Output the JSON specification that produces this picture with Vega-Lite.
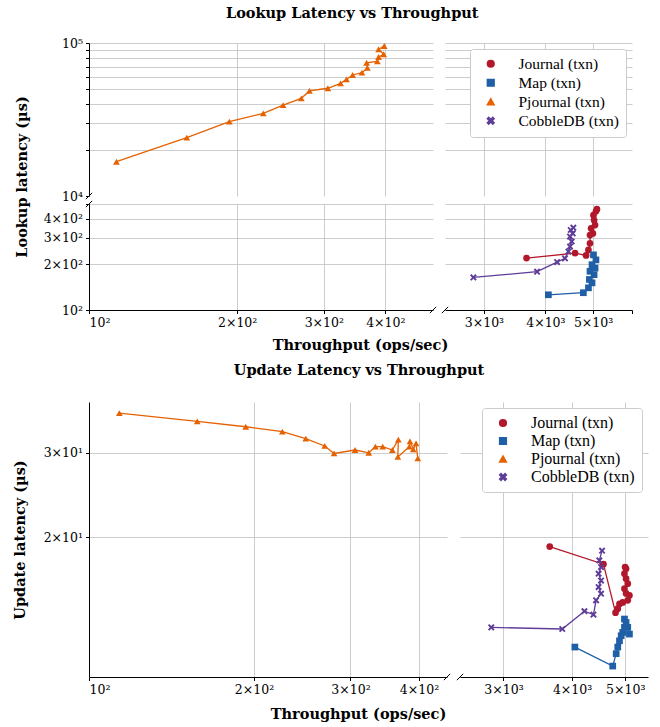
{
  "$schema": "https://vega.github.io/schema/vega-lite/v6.json",
  "padding": {"left": 12, "top": 5, "right": 5, "bottom": 5},
  "datasets": {
    "lookup": [
      {"s": "Pjournal (txn)", "i": 1, "x": 113.7, "y": 16750},
      {"s": "Pjournal (txn)", "i": 2, "x": 158, "y": 24050},
      {"s": "Pjournal (txn)", "i": 3, "x": 192.8, "y": 30600},
      {"s": "Pjournal (txn)", "i": 4, "x": 226, "y": 34700},
      {"s": "Pjournal (txn)", "i": 5, "x": 248, "y": 39300},
      {"s": "Pjournal (txn)", "i": 6, "x": 270, "y": 43500},
      {"s": "Pjournal (txn)", "i": 7, "x": 280.5, "y": 48600},
      {"s": "Pjournal (txn)", "i": 8, "x": 305.7, "y": 50600},
      {"s": "Pjournal (txn)", "i": 9, "x": 324.5, "y": 54500},
      {"s": "Pjournal (txn)", "i": 10, "x": 333.6, "y": 57900},
      {"s": "Pjournal (txn)", "i": 11, "x": 343.3, "y": 61800},
      {"s": "Pjournal (txn)", "i": 12, "x": 358.6, "y": 64000},
      {"s": "Pjournal (txn)", "i": 13, "x": 367.9, "y": 68700},
      {"s": "Pjournal (txn)", "i": 14, "x": 366.5, "y": 74300},
      {"s": "Pjournal (txn)", "i": 15, "x": 385.4, "y": 75900},
      {"s": "Pjournal (txn)", "i": 16, "x": 387.6, "y": 81000},
      {"s": "Pjournal (txn)", "i": 17, "x": 397, "y": 84400},
      {"s": "Pjournal (txn)", "i": 18, "x": 387.6, "y": 91000},
      {"s": "Pjournal (txn)", "i": 19, "x": 398, "y": 95600},
      {"s": "Journal (txn)", "i": 1, "x": 3662, "y": 220},
      {"s": "Journal (txn)", "i": 2, "x": 4596, "y": 237},
      {"s": "Journal (txn)", "i": 3, "x": 4840, "y": 229},
      {"s": "Journal (txn)", "i": 4, "x": 4893, "y": 249},
      {"s": "Journal (txn)", "i": 5, "x": 4929, "y": 275},
      {"s": "Journal (txn)", "i": 6, "x": 4929, "y": 312},
      {"s": "Journal (txn)", "i": 7, "x": 4996, "y": 320},
      {"s": "Journal (txn)", "i": 8, "x": 4955, "y": 345},
      {"s": "Journal (txn)", "i": 9, "x": 5047, "y": 363},
      {"s": "Journal (txn)", "i": 10, "x": 5024, "y": 392},
      {"s": "Journal (txn)", "i": 11, "x": 5010, "y": 422},
      {"s": "Journal (txn)", "i": 12, "x": 5068, "y": 448},
      {"s": "Journal (txn)", "i": 13, "x": 5092, "y": 462},
      {"s": "Map (txn)", "i": 1, "x": 4056, "y": 126},
      {"s": "Map (txn)", "i": 2, "x": 4778, "y": 130},
      {"s": "Map (txn)", "i": 3, "x": 4893, "y": 140},
      {"s": "Map (txn)", "i": 4, "x": 4976, "y": 151},
      {"s": "Map (txn)", "i": 5, "x": 4915, "y": 159},
      {"s": "Map (txn)", "i": 6, "x": 5024, "y": 171},
      {"s": "Map (txn)", "i": 7, "x": 4929, "y": 180},
      {"s": "Map (txn)", "i": 8, "x": 5047, "y": 189},
      {"s": "Map (txn)", "i": 9, "x": 4976, "y": 199},
      {"s": "Map (txn)", "i": 10, "x": 5068, "y": 214},
      {"s": "Map (txn)", "i": 11, "x": 5010, "y": 231},
      {"s": "CobbleDB (txn)", "i": 1, "x": 2855, "y": 164},
      {"s": "CobbleDB (txn)", "i": 2, "x": 3847, "y": 179},
      {"s": "CobbleDB (txn)", "i": 3, "x": 4225, "y": 207},
      {"s": "CobbleDB (txn)", "i": 4, "x": 4384, "y": 219},
      {"s": "CobbleDB (txn)", "i": 5, "x": 4455, "y": 243},
      {"s": "CobbleDB (txn)", "i": 6, "x": 4489, "y": 262},
      {"s": "CobbleDB (txn)", "i": 7, "x": 4525, "y": 283},
      {"s": "CobbleDB (txn)", "i": 8, "x": 4489, "y": 305},
      {"s": "CobbleDB (txn)", "i": 9, "x": 4546, "y": 320},
      {"s": "CobbleDB (txn)", "i": 10, "x": 4504, "y": 337},
      {"s": "CobbleDB (txn)", "i": 11, "x": 4559, "y": 349}
    ],
    "update": [
      {"s": "Pjournal (txn)", "i": 1, "x": 113.6, "y": 36.3},
      {"s": "Pjournal (txn)", "i": 2, "x": 157.6, "y": 34.9},
      {"s": "Pjournal (txn)", "i": 3, "x": 193.2, "y": 34.0},
      {"s": "Pjournal (txn)", "i": 4, "x": 225.3, "y": 33.2},
      {"s": "Pjournal (txn)", "i": 5, "x": 248.6, "y": 32.1},
      {"s": "Pjournal (txn)", "i": 6, "x": 269.2, "y": 31.0},
      {"s": "Pjournal (txn)", "i": 7, "x": 280, "y": 29.9},
      {"s": "Pjournal (txn)", "i": 8, "x": 305.8, "y": 30.4},
      {"s": "Pjournal (txn)", "i": 9, "x": 323.9, "y": 30.0},
      {"s": "Pjournal (txn)", "i": 10, "x": 333.1, "y": 30.9},
      {"s": "Pjournal (txn)", "i": 11, "x": 343.5, "y": 30.9},
      {"s": "Pjournal (txn)", "i": 12, "x": 357.7, "y": 30.4},
      {"s": "Pjournal (txn)", "i": 13, "x": 366.8, "y": 31.95},
      {"s": "Pjournal (txn)", "i": 14, "x": 366, "y": 29.4},
      {"s": "Pjournal (txn)", "i": 15, "x": 384.1, "y": 30.9},
      {"s": "Pjournal (txn)", "i": 16, "x": 385.2, "y": 31.7},
      {"s": "Pjournal (txn)", "i": 17, "x": 390.6, "y": 30.5},
      {"s": "Pjournal (txn)", "i": 18, "x": 395.1, "y": 31.4},
      {"s": "Pjournal (txn)", "i": 19, "x": 398, "y": 29.2},
      {"s": "Journal (txn)", "i": 1, "x": 3642, "y": 19.1},
      {"s": "Journal (txn)", "i": 2, "x": 4563, "y": 17.55},
      {"s": "Journal (txn)", "i": 3, "x": 4800, "y": 13.9},
      {"s": "Journal (txn)", "i": 4, "x": 4845, "y": 14.17},
      {"s": "Journal (txn)", "i": 5, "x": 4880, "y": 14.5},
      {"s": "Journal (txn)", "i": 6, "x": 4947, "y": 14.6},
      {"s": "Journal (txn)", "i": 7, "x": 5052, "y": 14.75},
      {"s": "Journal (txn)", "i": 8, "x": 5088, "y": 15.1},
      {"s": "Journal (txn)", "i": 9, "x": 5017, "y": 15.25},
      {"s": "Journal (txn)", "i": 10, "x": 4983, "y": 15.6},
      {"s": "Journal (txn)", "i": 11, "x": 5052, "y": 15.98},
      {"s": "Journal (txn)", "i": 12, "x": 5017, "y": 16.37},
      {"s": "Journal (txn)", "i": 13, "x": 4983, "y": 16.77},
      {"s": "Journal (txn)", "i": 14, "x": 5017, "y": 17.17},
      {"s": "Journal (txn)", "i": 15, "x": 4996, "y": 17.31},
      {"s": "Map (txn)", "i": 1, "x": 4047, "y": 11.78},
      {"s": "Map (txn)", "i": 2, "x": 4744, "y": 10.75},
      {"s": "Map (txn)", "i": 3, "x": 4813, "y": 11.41},
      {"s": "Map (txn)", "i": 4, "x": 4845, "y": 11.78},
      {"s": "Map (txn)", "i": 5, "x": 4880, "y": 12.14},
      {"s": "Map (txn)", "i": 6, "x": 4915, "y": 12.44},
      {"s": "Map (txn)", "i": 7, "x": 4947, "y": 12.64},
      {"s": "Map (txn)", "i": 8, "x": 5088, "y": 12.54},
      {"s": "Map (txn)", "i": 9, "x": 5052, "y": 12.95},
      {"s": "Map (txn)", "i": 10, "x": 4983, "y": 12.95},
      {"s": "Map (txn)", "i": 11, "x": 5017, "y": 13.26},
      {"s": "Map (txn)", "i": 12, "x": 4983, "y": 13.48},
      {"s": "CobbleDB (txn)", "i": 1, "x": 2850, "y": 12.95},
      {"s": "CobbleDB (txn)", "i": 2, "x": 3839, "y": 12.85},
      {"s": "CobbleDB (txn)", "i": 3, "x": 4213, "y": 14.0},
      {"s": "CobbleDB (txn)", "i": 4, "x": 4375, "y": 13.77},
      {"s": "CobbleDB (txn)", "i": 5, "x": 4424, "y": 14.75},
      {"s": "CobbleDB (txn)", "i": 6, "x": 4517, "y": 15.23},
      {"s": "CobbleDB (txn)", "i": 7, "x": 4471, "y": 15.72},
      {"s": "CobbleDB (txn)", "i": 8, "x": 4517, "y": 16.22},
      {"s": "CobbleDB (txn)", "i": 9, "x": 4471, "y": 16.77},
      {"s": "CobbleDB (txn)", "i": 10, "x": 4517, "y": 17.31},
      {"s": "CobbleDB (txn)", "i": 11, "x": 4485, "y": 17.87},
      {"s": "CobbleDB (txn)", "i": 12, "x": 4536, "y": 18.73}
    ]
  },
  "spacing": 10,
  "resolve": {"scale": {"x": "independent", "y": "independent", "color": "independent", "shape": "independent"}, "legend": {"color": "independent", "shape": "independent"}},
  "vconcat": [
    {
      "title": {"text": "Lookup Latency vs Throughput", "anchor": "middle", "dx": 29, "offset": 16},
      "columns": 2,
      "bounds": "flush",
      "spacing": {"row": 8, "column": 12},
      "resolve": {"scale": {"x": "independent", "y": "independent", "color": "independent", "shape": "independent"}, "legend": {"color": "independent", "shape": "independent"}},
      "concat": [
        {
          "width": 344, "height": 153,
          "data": {"name": "lookup"},
          "encoding": {
            "x": {"field": "x", "type": "quantitative", "scale": {"type": "log", "domain": [100, 500], "nice": false},
              "axis": {"values": [200, 300, 400], "labels": false, "ticks": false, "domain": false, "title": null}},
            "y": {"field": "y", "type": "quantitative", "scale": {"type": "log", "domain": [10000, 100000], "nice": false},
              "axis": {"values": [10000, 20000, 30000, 40000, 50000, 60000, 70000, 80000, 90000, 100000], "labelExpr": "datum.value == 100000 ? '10⁵' : datum.value == 10000 ? '10⁴' : ''", "title": null, "minExtent": 45, "maxExtent": 45, "gridOpacity": {"condition": {"test": "datum.value == 10000", "value": 0}, "value": 1}}}
          },
          "layer": [
            {"mark": {"type": "line", "clip": true, "strokeWidth": 1.3},
              "encoding": {"order": {"field": "i", "type": "quantitative"}, "color": {"field": "s", "type": "nominal", "scale": {"domain": ["Journal (txn)", "Map (txn)", "Pjournal (txn)", "CobbleDB (txn)"], "range": ["#b2182b", "#1f5fa6", "#e66101", "#5e3c99"]}, "legend": null}}},
            {"mark": {"type": "point", "filled": true, "opacity": 1, "size": 45, "clip": true},
              "encoding": {"color": {"field": "s", "type": "nominal", "scale": {"domain": ["Journal (txn)", "Map (txn)", "Pjournal (txn)", "CobbleDB (txn)"], "range": ["#b2182b", "#1f5fa6", "#e66101", "#5e3c99"]}, "legend": null}, "shape": {"field": "s", "type": "nominal", "scale": {"domain": ["Journal (txn)", "Map (txn)", "Pjournal (txn)", "CobbleDB (txn)"], "range": ["circle", "square", "triangle-up", "M-1,-0.6L-0.6,-1L0,-0.4L0.6,-1L1,-0.6L0.4,0L1,0.6L0.6,1L0,0.4L-0.6,1L-1,0.6L-0.4,0Z"]}, "legend": null}}},
            {"data": {"values": [{"bx": 100, "by": 10000}]}, "mark": {"type": "point", "shape": "M-1,1L1,-1", "filled": false, "stroke": "#000", "strokeWidth": 1, "size": 40, "opacity": 1},
              "encoding": {"x": {"field": "bx", "type": "quantitative"}, "y": {"field": "by", "type": "quantitative"}}}
          ]
        },
        {
          "width": 187, "height": 153,
          "data": {"name": "lookup"},
          "encoding": {
            "x": {"field": "x", "type": "quantitative", "scale": {"type": "log", "domain": [2500, 6000], "nice": false},
              "axis": {"values": [3000, 4000, 5000], "labels": false, "ticks": false, "domain": false, "title": null}},
            "y": {"field": "y", "type": "quantitative", "scale": {"type": "log", "domain": [10000, 100000], "nice": false},
              "axis": {"values": [20000, 30000, 40000, 50000, 60000, 70000, 80000, 90000, 100000], "labels": false, "ticks": false, "domain": false, "title": null}}
          },
          "layer": [
            {"mark": {"type": "line", "clip": true, "strokeWidth": 1.3},
              "encoding": {"order": {"field": "i", "type": "quantitative"}, "color": {"field": "s", "type": "nominal", "scale": {"domain": ["Journal (txn)", "Map (txn)", "Pjournal (txn)", "CobbleDB (txn)"], "range": ["#b2182b", "#1f5fa6", "#e66101", "#5e3c99"]}, "legend": {"title": null, "orient": "top-right", "offset": 6, "labelFont": "Liberation Serif", "labelFontSize": 15.5}}}},
            {"mark": {"type": "point", "filled": true, "opacity": 1, "size": 45, "clip": true},
              "encoding": {"color": {"field": "s", "type": "nominal", "scale": {"domain": ["Journal (txn)", "Map (txn)", "Pjournal (txn)", "CobbleDB (txn)"], "range": ["#b2182b", "#1f5fa6", "#e66101", "#5e3c99"]}, "legend": {"title": null, "orient": "top-right", "offset": 6, "labelFont": "Liberation Serif", "labelFontSize": 15.5}}, "shape": {"field": "s", "type": "nominal", "scale": {"domain": ["Journal (txn)", "Map (txn)", "Pjournal (txn)", "CobbleDB (txn)"], "range": ["circle", "square", "triangle-up", "M-1,-0.6L-0.6,-1L0,-0.4L0.6,-1L1,-0.6L0.4,0L1,0.6L0.6,1L0,0.4L-0.6,1L-1,0.6L-0.4,0Z"]}, "legend": {"title": null, "orient": "top-right", "offset": 6, "labelFont": "Liberation Serif", "labelFontSize": 15.5}}}}
          ]
        },
        {
          "width": 344, "height": 106,
          "data": {"name": "lookup"},
          "encoding": {
            "x": {"field": "x", "type": "quantitative", "scale": {"type": "log", "domain": [100, 500], "nice": false},
              "axis": {"values": [100, 200, 300, 400], "labelExpr": "datum.value == 100 ? '10²' : datum.value == 200 ? '2×10²' : datum.value == 300 ? '3×10²' : '4×10²'", "title": "Throughput (ops/sec)", "titleX": 271, "titlePadding": 9, "gridOpacity": {"condition": {"test": "datum.value == 100", "value": 0}, "value": 1}}},
            "y": {"field": "y", "type": "quantitative", "scale": {"type": "log", "domain": [100, 500], "nice": false},
              "axis": {"values": [100, 200, 300, 400, 500], "labelExpr": "datum.value == 100 ? '10²' : datum.value == 200 ? '2×10²' : datum.value == 300 ? '3×10²' : datum.value == 400 ? '4×10²' : ''", "title": "Lookup latency (µs)", "titleY": -27.5, "titlePadding": 15, "minExtent": 45, "maxExtent": 45}}
          },
          "layer": [
            {"mark": {"type": "line", "clip": true, "strokeWidth": 1.3},
              "encoding": {"order": {"field": "i", "type": "quantitative"}, "color": {"field": "s", "type": "nominal", "scale": {"domain": ["Journal (txn)", "Map (txn)", "Pjournal (txn)", "CobbleDB (txn)"], "range": ["#b2182b", "#1f5fa6", "#e66101", "#5e3c99"]}, "legend": null}}},
            {"mark": {"type": "point", "filled": true, "opacity": 1, "size": 45, "clip": true},
              "encoding": {"color": {"field": "s", "type": "nominal", "scale": {"domain": ["Journal (txn)", "Map (txn)", "Pjournal (txn)", "CobbleDB (txn)"], "range": ["#b2182b", "#1f5fa6", "#e66101", "#5e3c99"]}, "legend": null}, "shape": {"field": "s", "type": "nominal", "scale": {"domain": ["Journal (txn)", "Map (txn)", "Pjournal (txn)", "CobbleDB (txn)"], "range": ["circle", "square", "triangle-up", "M-1,-0.6L-0.6,-1L0,-0.4L0.6,-1L1,-0.6L0.4,0L1,0.6L0.6,1L0,0.4L-0.6,1L-1,0.6L-0.4,0Z"]}, "legend": null}}},
            {"data": {"values": [{"bx": 100, "by": 500}, {"bx": 500, "by": 100}]}, "mark": {"type": "point", "shape": "M-1,1L1,-1", "filled": false, "stroke": "#000", "strokeWidth": 1, "size": 40, "opacity": 1},
              "encoding": {"x": {"field": "bx", "type": "quantitative"}, "y": {"field": "by", "type": "quantitative"}}}
          ]
        },
        {
          "width": 187, "height": 106,
          "data": {"name": "lookup"},
          "encoding": {
            "x": {"field": "x", "type": "quantitative", "scale": {"type": "log", "domain": [2500, 6000], "nice": false},
              "axis": {"values": [3000, 4000, 5000, 6000], "labelExpr": "datum.value == 3000 ? '3×10³' : datum.value == 4000 ? '4×10³' : datum.value == 5000 ? '5×10³' : '6×10³'", "title": null, "gridOpacity": {"condition": {"test": "datum.value == 6000", "value": 0}, "value": 1}}},
            "y": {"field": "y", "type": "quantitative", "scale": {"type": "log", "domain": [100, 500], "nice": false},
              "axis": {"values": [200, 300, 400, 500], "labels": false, "ticks": false, "domain": false, "title": null}}
          },
          "layer": [
            {"mark": {"type": "line", "clip": true, "strokeWidth": 1.3},
              "encoding": {"order": {"field": "i", "type": "quantitative"}, "color": {"field": "s", "type": "nominal", "scale": {"domain": ["Journal (txn)", "Map (txn)", "Pjournal (txn)", "CobbleDB (txn)"], "range": ["#b2182b", "#1f5fa6", "#e66101", "#5e3c99"]}, "legend": null}}},
            {"mark": {"type": "point", "filled": true, "opacity": 1, "size": 45, "clip": true},
              "encoding": {"color": {"field": "s", "type": "nominal", "scale": {"domain": ["Journal (txn)", "Map (txn)", "Pjournal (txn)", "CobbleDB (txn)"], "range": ["#b2182b", "#1f5fa6", "#e66101", "#5e3c99"]}, "legend": null}, "shape": {"field": "s", "type": "nominal", "scale": {"domain": ["Journal (txn)", "Map (txn)", "Pjournal (txn)", "CobbleDB (txn)"], "range": ["circle", "square", "triangle-up", "M-1,-0.6L-0.6,-1L0,-0.4L0.6,-1L1,-0.6L0.4,0L1,0.6L0.6,1L0,0.4L-0.6,1L-1,0.6L-0.4,0Z"]}, "legend": null}}},
            {"data": {"values": [{"bx": 2500, "by": 100}]}, "mark": {"type": "point", "shape": "M-1,1L1,-1", "filled": false, "stroke": "#000", "strokeWidth": 1, "size": 40, "opacity": 1},
              "encoding": {"x": {"field": "bx", "type": "quantitative"}, "y": {"field": "by", "type": "quantitative"}}}
          ]
        }
      ]
    },
    {
      "title": {"text": "Update Latency vs Throughput", "anchor": "middle", "dx": 29, "offset": 24},
      "bounds": "flush",
      "spacing": 13,
      "resolve": {"scale": {"x": "independent", "y": "independent", "color": "independent", "shape": "independent"}, "legend": {"color": "independent", "shape": "independent"}},
      "hconcat": [
        {
          "width": 358, "height": 275,
          "data": {"name": "update"},
          "encoding": {
            "x": {"field": "x", "type": "quantitative", "scale": {"type": "log", "domain": [100, 450], "nice": false},
              "axis": {"values": [100, 200, 300, 400], "labelExpr": "datum.value == 100 ? '10²' : datum.value == 200 ? '2×10²' : datum.value == 300 ? '3×10²' : '4×10²'", "title": "Throughput (ops/sec)", "titleX": 269, "titlePadding": 11, "gridOpacity": {"condition": {"test": "datum.value == 100", "value": 0}, "value": 1}}},
            "y": {"field": "y", "type": "quantitative", "scale": {"type": "log", "domain": [10.2, 38.3], "nice": false},
              "axis": {"values": [20, 30], "labelExpr": "datum.value == 20 ? '2×10¹' : '3×10¹'", "title": "Update latency (µs)", "titlePadding": 17, "minExtent": 45, "maxExtent": 45}}
          },
          "layer": [
            {"mark": {"type": "line", "clip": true, "strokeWidth": 1.3},
              "encoding": {"order": {"field": "i", "type": "quantitative"}, "color": {"field": "s", "type": "nominal", "scale": {"domain": ["Journal (txn)", "Map (txn)", "Pjournal (txn)", "CobbleDB (txn)"], "range": ["#b2182b", "#1f5fa6", "#e66101", "#5e3c99"]}, "legend": null}}},
            {"mark": {"type": "point", "filled": true, "opacity": 1, "size": 45, "clip": true},
              "encoding": {"color": {"field": "s", "type": "nominal", "scale": {"domain": ["Journal (txn)", "Map (txn)", "Pjournal (txn)", "CobbleDB (txn)"], "range": ["#b2182b", "#1f5fa6", "#e66101", "#5e3c99"]}, "legend": null}, "shape": {"field": "s", "type": "nominal", "scale": {"domain": ["Journal (txn)", "Map (txn)", "Pjournal (txn)", "CobbleDB (txn)"], "range": ["circle", "square", "triangle-up", "M-1,-0.6L-0.6,-1L0,-0.4L0.6,-1L1,-0.6L0.4,0L1,0.6L0.6,1L0,0.4L-0.6,1L-1,0.6L-0.4,0Z"]}, "legend": null}}},
            {"data": {"values": [{"bx": 450, "by": 10.2}]}, "mark": {"type": "point", "shape": "M-1,1L1,-1", "filled": false, "stroke": "#000", "strokeWidth": 1, "size": 40, "opacity": 1},
              "encoding": {"x": {"field": "bx", "type": "quantitative"}, "y": {"field": "by", "type": "quantitative"}}}
          ]
        },
        {
          "width": 188, "height": 275,
          "data": {"name": "update"},
          "encoding": {
            "x": {"field": "x", "type": "quantitative", "scale": {"type": "log", "domain": [2500, 5500], "nice": false},
              "axis": {"values": [3000, 4000, 5000], "labelExpr": "datum.value == 3000 ? '3×10³' : datum.value == 4000 ? '4×10³' : '5×10³'", "title": null}},
            "y": {"field": "y", "type": "quantitative", "scale": {"type": "log", "domain": [10.2, 38.3], "nice": false},
              "axis": {"values": [20, 30], "labels": false, "ticks": false, "domain": false, "title": null}}
          },
          "layer": [
            {"mark": {"type": "line", "clip": true, "strokeWidth": 1.3},
              "encoding": {"order": {"field": "i", "type": "quantitative"}, "color": {"field": "s", "type": "nominal", "scale": {"domain": ["Journal (txn)", "Map (txn)", "Pjournal (txn)", "CobbleDB (txn)"], "range": ["#b2182b", "#1f5fa6", "#e66101", "#5e3c99"]}, "legend": {"title": null, "orient": "top-right", "offset": 6, "labelFont": "Liberation Serif", "labelFontSize": 16}}}},
            {"mark": {"type": "point", "filled": true, "opacity": 1, "size": 45, "clip": true},
              "encoding": {"color": {"field": "s", "type": "nominal", "scale": {"domain": ["Journal (txn)", "Map (txn)", "Pjournal (txn)", "CobbleDB (txn)"], "range": ["#b2182b", "#1f5fa6", "#e66101", "#5e3c99"]}, "legend": {"title": null, "orient": "top-right", "offset": 6, "labelFont": "Liberation Serif", "labelFontSize": 16}}, "shape": {"field": "s", "type": "nominal", "scale": {"domain": ["Journal (txn)", "Map (txn)", "Pjournal (txn)", "CobbleDB (txn)"], "range": ["circle", "square", "triangle-up", "M-1,-0.6L-0.6,-1L0,-0.4L0.6,-1L1,-0.6L0.4,0L1,0.6L0.6,1L0,0.4L-0.6,1L-1,0.6L-0.4,0Z"]}, "legend": {"title": null, "orient": "top-right", "offset": 6, "labelFont": "Liberation Serif", "labelFontSize": 16}}}},
            {"data": {"values": [{"bx": 2500, "by": 10.2}]}, "mark": {"type": "point", "shape": "M-1,1L1,-1", "filled": false, "stroke": "#000", "strokeWidth": 1, "size": 40, "opacity": 1},
              "encoding": {"x": {"field": "bx", "type": "quantitative"}, "y": {"field": "by", "type": "quantitative"}}}
          ]
        }
      ]
    }
  ],
  "config": {
    "view": {"stroke": null},
    "font": "DejaVu Serif",
    "title": {"font": "DejaVu Serif", "fontSize": 14.5, "fontWeight": "bold", "color": "#000"},
    "axis": {"labelFont": "DejaVu Serif", "labelFontSize": 12.5, "labelColor": "#000", "titleFont": "DejaVu Serif", "titleFontSize": 14.5, "titleFontWeight": "bold", "titleColor": "#000", "domainColor": "#000", "tickColor": "#000", "gridColor": "#c0c0c0", "gridWidth": 0.8, "tickSize": 3.5, "labelPadding": 3, "domainWidth": 1},
    "legend": {"labelFont": "Liberation Serif", "labelFontSize": 15.5, "labelColor": "#000", "symbolSize": 45, "padding": 7, "strokeColor": "#cccccc", "fillColor": "white", "cornerRadius": 3, "rowPadding": 2, "labelOffset": 20, "symbolOffset": 6}
  }
}
